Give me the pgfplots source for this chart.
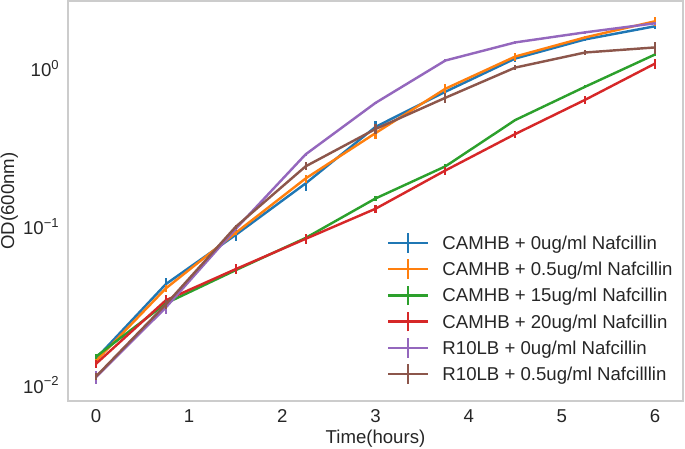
\documentclass[border=0pt]{standalone}
\usepackage{pgfplots}
\pgfplotsset{compat=1.18}
\usepackage{pgfplotstable}
\usepackage{fontspec}
\setmainfont{Liberation Sans}
\definecolor{c0}{HTML}{1F77B4}
\definecolor{c1}{HTML}{FF7F0E}
\definecolor{c2}{HTML}{2CA02C}
\definecolor{c3}{HTML}{D62728}
\definecolor{c4}{HTML}{9467BD}
\definecolor{c5}{HTML}{8C564B}
\definecolor{framec}{gray}{0.8}
\definecolor{textc}{gray}{0.15}

\pgfplotstableread{
x y e
0 0.0147 0.0006
0.75 0.0434 0.004
1.5 0.0889 0.008
2.25 0.188 0.019
3 0.428 0.04
3.75 0.714 0.03
4.5 1.158 0.05
5.25 1.530 0.04
6 1.852 0.08
}\tblue
\pgfplotstableread{
x y e
0 0.0142 0.0008
0.75 0.0408 0.002
1.5 0.0916 0.003
2.25 0.202 0.012
3 0.391 0.03
3.75 0.746 0.05
4.5 1.192 0.07
5.25 1.575 0.04
6 1.992 0.12
}\torange
\pgfplotstableread{
x y e
0 0.0151 0.0006
0.75 0.0328 0.001
1.5 0.0532 0.002
2.25 0.085 0.003
3 0.151 0.005
3.75 0.241 0.008
4.5 0.473 0.01
5.25 0.768 0.015
6 1.228 0.03
}\tgreen
\pgfplotstableread{
x y e
0 0.0136 0.0008
0.75 0.0343 0.003
1.5 0.054 0.004
2.25 0.0839 0.006
3 0.130 0.008
3.75 0.227 0.013
4.5 0.386 0.02
5.25 0.635 0.035
6 1.076 0.08
}\tred
\pgfplotstableread{
x y e
0 0.0112 0.001
0.75 0.0309 0.0027
1.5 0.097 0.002
2.25 0.287 0.006
3 0.607 0.01
3.75 1.125 0.02
4.5 1.464 0.03
5.25 1.695 0.03
6 1.934 0.05
}\tpurple
\pgfplotstableread{
x y e
0 0.0113 0.0006
0.75 0.0323 0.002
1.5 0.100 0.003
2.25 0.241 0.014
3 0.415 0.03
3.75 0.654 0.05
4.5 1.015 0.04
5.25 1.264 0.05
6 1.361 0.12
}\tbrown

\begin{document}
\fontsize{13.4}{16}\selectfont
\color{textc}
\begin{tikzpicture}
\begin{axis}[
  scale only axis,
  width=442.8pt, height=288pt,
  ymode=log,
  xmin=-0.3, xmax=6.3,
  ymin=0.00792, ymax=2.675,
  xtick={0,1,2,3,4,5,6},
  ytick={0.01,0.1,1},
  yticklabels={10\textsuperscript{−2},10\textsuperscript{−1},10\textsuperscript{0}},
  minor ytick={},
  major tick length=0pt, minor tick length=0pt,
  tick style={draw=none},
  /pgf/number format/assume math mode=true,
  axis line style={draw=framec, line width=1pt},
  tick label style={font=\fontsize{13.4}{16}\selectfont, text=textc},
  xticklabel style={inner sep=0pt, anchor=north, yshift=-5.8pt},
  yticklabel style={inner sep=0pt, anchor=east, xshift=-6pt},
  xlabel={Time(hours)},
  ylabel={OD(600nm)},
  label style={font=\fontsize{13.4}{16}\selectfont, text=textc},
  xlabel style={at={(axis description cs:0.5,0)}, anchor=north, inner sep=0pt, yshift=-21pt},
  ylabel style={at={([xshift=-35.8pt]axis description cs:0,0.5)}, anchor=south, inner sep=0pt},
  legend style={
    at={(0.5187,0.4156)}, anchor=north west,
    draw=none, fill=none, inner sep=0pt, outer sep=0pt,
    font=\fontsize{13.4}{16}\selectfont, text=textc,
    row sep=7.1pt, column sep=9.4pt,
    nodes={inner sep=0pt, outer sep=0pt, text height=10.6pt, text depth=1.2pt},
  },
  legend cell align=left,
  legend image code/.code={
    \draw[#1, line width=1.75pt] (0pt,0pt) -- (28.8pt,0pt);
    \draw[#1, line width=1.75pt, overlay] (14.4pt,-7pt) -- (14.4pt,7pt);
  },
  every axis plot/.append style={line width=1.75pt, mark=none,
    error bars/y dir=both, error bars/y explicit, error bars/error mark=none,
    error bars/error bar style={line width=1.6pt}},
]
\addplot[c0] table[x=x, y=y, y error=e] {\tblue};
\addlegendentry{CAMHB + 0ug/ml Nafcillin}
\addplot[c1] table[x=x, y=y, y error=e] {\torange};
\addlegendentry{CAMHB + 0.5ug/ml Nafcillin}
\addplot[c2] table[x=x, y=y, y error=e] {\tgreen};
\addlegendentry{CAMHB + 15ug/ml Nafcillin}
\addplot[c3] table[x=x, y=y, y error=e] {\tred};
\addlegendentry{CAMHB + 20ug/ml Nafcillin}
\addplot[c4] table[x=x, y=y, y error=e] {\tpurple};
\addlegendentry{R10LB + 0ug/ml Nafcillin}
\addplot[c5] table[x=x, y=y, y error=e] {\tbrown};
\addlegendentry{R10LB + 0.5ug/ml Nafcilllin}
\end{axis}
\pgfresetboundingbox
\path[use as bounding box] (-48.96pt,-34.56pt) rectangle (444.24pt,288.72pt);
\end{tikzpicture}
\end{document}
